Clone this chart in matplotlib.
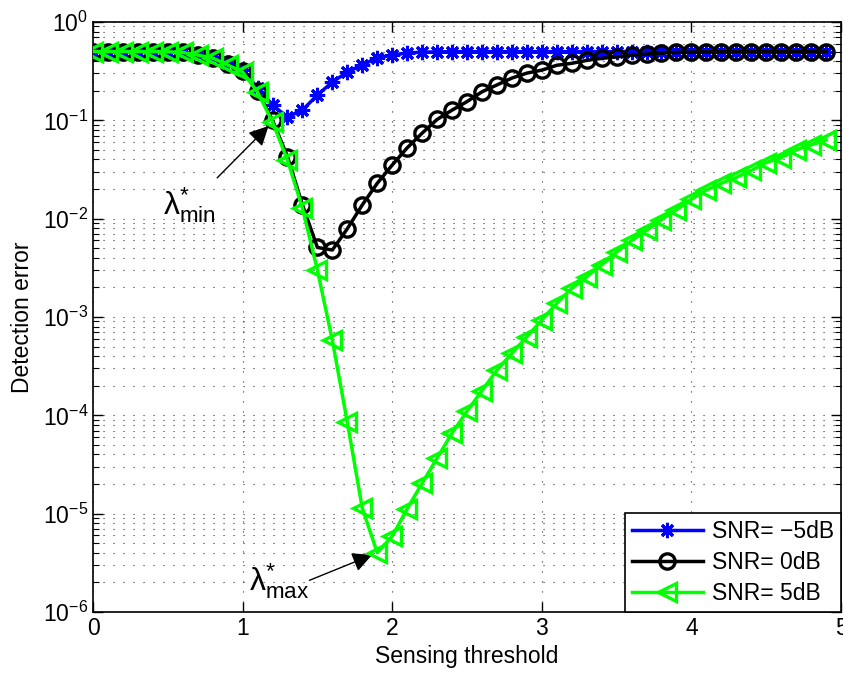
import matplotlib
matplotlib.use("Agg")
import matplotlib.pyplot as plt
from matplotlib.ticker import LogLocator, FixedLocator, NullFormatter

plt.rcParams['font.family'] = ['Liberation Sans', 'DejaVu Sans']
plt.rcParams['mathtext.fontset'] = 'custom'
plt.rcParams['mathtext.rm'] = 'Liberation Sans'
plt.rcParams['mathtext.it'] = 'Liberation Sans:italic'
plt.rcParams['mathtext.bf'] = 'Liberation Sans:bold'

# ---------------- data ----------------
threshold = [round(0.1 * i, 1) for i in range(50)]  # 0.0 ... 4.9

err_m5 = [0.5, 0.5, 0.5, 0.5, 0.5, 0.498, 0.49, 0.468, 0.437, 0.38,
          0.324, 0.214, 0.143, 0.108, 0.127, 0.181, 0.245, 0.309, 0.366, 0.43,
          0.461, 0.484, 0.493, 0.497, 0.5, 0.5, 0.5, 0.5, 0.5, 0.5,
          0.5, 0.5, 0.5, 0.5, 0.5, 0.5, 0.5, 0.5, 0.5, 0.5,
          0.5, 0.5, 0.5, 0.5, 0.5, 0.5, 0.5, 0.5, 0.5, 0.5]

err_0 = [0.5, 0.5, 0.5, 0.5, 0.5, 0.498, 0.49, 0.461, 0.43, 0.37,
         0.316, 0.2, 0.1, 0.0427, 0.0138, 0.0051, 0.0048, 0.0079, 0.0138, 0.0229,
         0.0351, 0.0525, 0.0741, 0.102, 0.127, 0.155, 0.195, 0.229, 0.269, 0.302,
         0.324, 0.363, 0.38, 0.407, 0.427, 0.441, 0.461, 0.472, 0.484, 0.49,
         0.495, 0.497, 0.498, 0.5, 0.5, 0.5, 0.5, 0.5, 0.5, 0.5]

err_5 = [0.5, 0.5, 0.5, 0.5, 0.5, 0.498, 0.49, 0.461, 0.43, 0.366,
         0.31, 0.194, 0.0962, 0.0394, 0.0128, 0.0030, 5.8e-4, 8.5e-5, 1.14e-5, 4.0e-6,
         5.9e-6, 1.12e-5, 2.04e-5, 3.67e-5, 6.6e-5, 1.10e-4, 1.78e-4, 2.88e-4, 4.27e-4, 6.3e-4,
         9.3e-4, 1.38e-3, 1.95e-3, 2.57e-3, 3.39e-3, 4.57e-3, 6.0e-3, 7.6e-3, 9.8e-3, 0.0123,
         0.0158, 0.0195, 0.0229, 0.0263, 0.0309, 0.0372, 0.0417, 0.0501, 0.0562, 0.0631]

labels = ['SNR= \u22125dB', 'SNR= 0dB', 'SNR= 5dB']
xticks = [0, 1, 2, 3, 4, 5]

# ---------------- figure ----------------
fig = plt.figure(figsize=(8.43, 6.78), dpi=100)
ax = fig.add_axes([93 / 843, (678 - 612) / 678, (841 - 93) / 843, (612 - 22) / 678])

ax.plot(threshold, err_m5, color=(0, 0, 1), lw=2.5, marker=(8, 2, 0),
        ms=11, mew=2.2, label=labels[0], zorder=3)
ax.plot(threshold, err_0, color='black', lw=2.5, marker='o', ms=11,
        mfc='none', mew=2.4, label=labels[1], zorder=4)
ax.plot(threshold, err_5, color=(0, 1, 0), lw=2.5, marker='<', ms=13,
        mfc='none', mew=2.4, label=labels[2], zorder=5)

ax.set_yscale('log')
ax.set_xlim(0, 5)
ax.set_ylim(1e-6, 1)
ax.xaxis.set_major_locator(FixedLocator(xticks))
ax.yaxis.set_major_locator(LogLocator(base=10, numticks=20))
ax.yaxis.set_minor_locator(LogLocator(base=10, subs=range(2, 10), numticks=100))
ax.yaxis.set_minor_formatter(NullFormatter())

dot = (0, (1, 8))
ax.grid(True, which='major', axis='both', linestyle=dot, color='0.2', lw=0.8)
ax.grid(True, which='minor', axis='y', linestyle=dot, color='0.2', lw=0.8)
ax.set_axisbelow(True)

ax.tick_params(which='both', direction='in', top=True, right=True, labelsize=16.5)
ax.tick_params(which='major', length=7, width=1)
ax.tick_params(which='minor', length=4, width=0.8)
for s in ax.spines.values():
    s.set_linewidth(1.2)

ax.set_xlabel('Sensing threshold', fontsize=16.5, labelpad=4)
ax.set_ylabel('Detection error', fontsize=16.5, labelpad=6)

leg = ax.legend(loc='lower right', bbox_to_anchor=(1.0, 0.0), borderaxespad=0,
                fontsize=16.5, fancybox=False, framealpha=1, edgecolor='black',
                handlelength=3.1, labelspacing=0.35, numpoints=1,
                borderpad=0.3, handletextpad=0.4)
leg.get_frame().set_linewidth(1.2)

# annotations
ax.annotate('', xy=(threshold[12], err_5[12]), xytext=(0.83, 0.026),
            arrowprops=dict(arrowstyle='-|>', color='black', lw=1,
                            mutation_scale=30, shrinkA=0, shrinkB=4))
ax.text(0.47, 0.0109, r'$\mathrm{\lambda}^{*}_{\mathrm{min}}$', fontsize=23,
        va='baseline', ha='left')

ax.annotate('', xy=(threshold[19], err_5[19]), xytext=(1.447, 2.1e-6),
            arrowprops=dict(arrowstyle='-|>', color='black', lw=1,
                            mutation_scale=30, shrinkA=0, shrinkB=4))
ax.text(1.04, 1.66e-6, r'$\mathrm{\lambda}^{*}_{\mathrm{max}}$', fontsize=23,
        va='baseline', ha='left')

fig.savefig('out.png', dpi=100)
